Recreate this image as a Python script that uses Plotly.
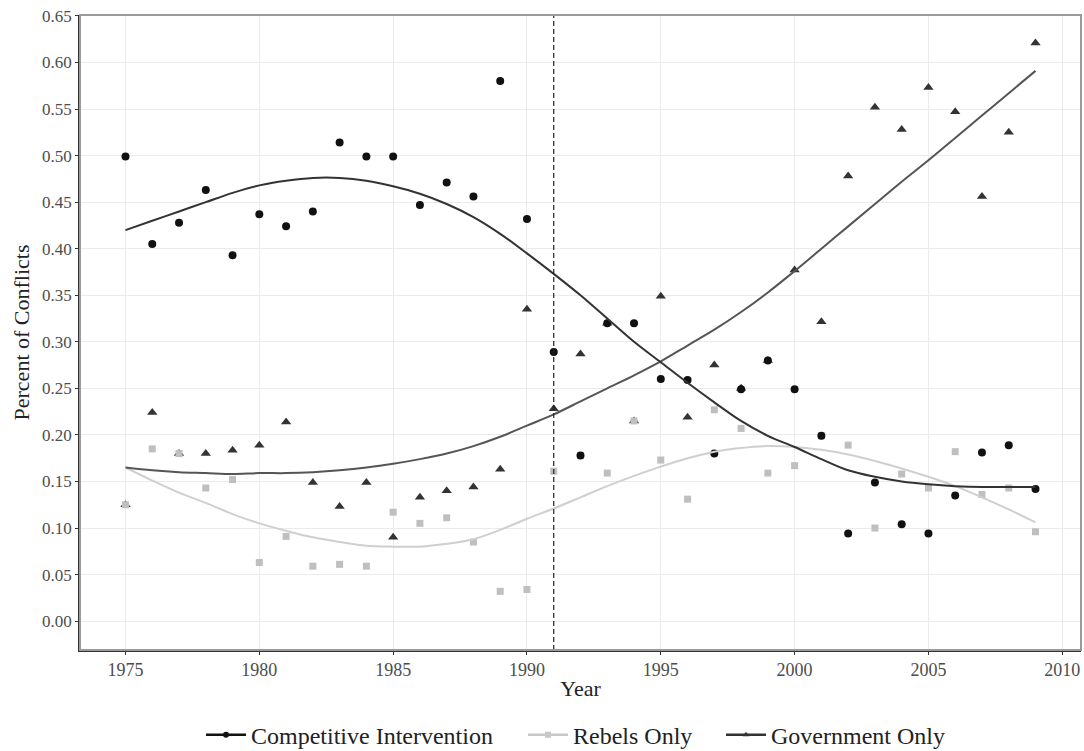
import plotly.graph_objects as go

years = list(range(1975, 2010))

competitive = [0.499, 0.405, 0.428, 0.463, 0.393, 0.437, 0.424, 0.440, 0.514, 0.499,
               0.499, 0.447, 0.471, 0.456, 0.580, 0.432, 0.289, 0.178, 0.320, 0.320,
               0.260, 0.259, 0.180, 0.249, 0.280, 0.249, 0.199, 0.094, 0.149, 0.104,
               0.094, 0.135, 0.181, 0.189, 0.142]

rebels = [0.125, 0.185, 0.180, 0.143, 0.152, 0.063, 0.091, 0.059, 0.061, 0.059,
          0.117, 0.105, 0.111, 0.085, 0.032, 0.034, 0.161, 0.178, 0.159, 0.215,
          0.173, 0.131, 0.227, 0.207, 0.159, 0.167, 0.199, 0.189, 0.100, 0.158,
          0.143, 0.182, 0.136, 0.143, 0.096]

government = [0.125, 0.224, 0.180, 0.180, 0.1835, 0.189, 0.214, 0.149, 0.123, 0.149,
              0.090, 0.133, 0.140, 0.144, 0.163, 0.335, 0.228, 0.287, 0.320, 0.215,
              0.349, 0.219, 0.275, 0.250, 0.280, 0.377, 0.3215, 0.478, 0.552, 0.528,
              0.573, 0.547, 0.456, 0.525, 0.621]

# smoothed trend curves
competitive_fit = [0.420, 0.430, 0.440, 0.450, 0.460, 0.468, 0.473, 0.476, 0.476, 0.473,
                   0.467, 0.459, 0.448, 0.434, 0.416, 0.395, 0.373, 0.350, 0.325, 0.300,
                   0.278, 0.256, 0.235, 0.215, 0.199, 0.187, 0.174, 0.162, 0.155, 0.150,
                   0.147, 0.145, 0.144, 0.144, 0.144]

rebels_fit = [0.165, 0.151, 0.138, 0.127, 0.115, 0.105, 0.097, 0.090, 0.085, 0.081,
              0.080, 0.080, 0.083, 0.088, 0.098, 0.110, 0.121, 0.133, 0.145, 0.156,
              0.166, 0.175, 0.182, 0.186, 0.188, 0.187, 0.184, 0.179, 0.172, 0.164,
              0.155, 0.145, 0.133, 0.120, 0.106]

government_fit = [0.165, 0.162, 0.160, 0.159, 0.158, 0.159, 0.159, 0.160, 0.162, 0.165,
                  0.169, 0.174, 0.180, 0.188, 0.198, 0.210, 0.222, 0.236, 0.250, 0.264,
                  0.279, 0.296, 0.313, 0.332, 0.353, 0.376, 0.400, 0.424, 0.448, 0.472,
                  0.495, 0.519, 0.543, 0.567, 0.591]

series_names = ["Competitive Intervention", "Rebels Only", "Government Only"]
event_year = 1991

FONT = "Liberation Serif"
c_comp = "#111111"
c_reb = "#bfbfbf"
c_gov = "#333333"

fig = go.Figure()

# points
fig.add_trace(go.Scatter(x=years, y=government, mode="markers", showlegend=False,
                         marker=dict(symbol="triangle-up", size=9, color=c_gov)))
fig.add_trace(go.Scatter(x=years, y=rebels, mode="markers", showlegend=False,
                         marker=dict(symbol="square", size=7, color=c_reb)))
fig.add_trace(go.Scatter(x=years, y=competitive, mode="markers", showlegend=False,
                         marker=dict(symbol="circle", size=8, color=c_comp)))

# trend lines
fig.add_trace(go.Scatter(x=years, y=rebels_fit, mode="lines", showlegend=False,
                         line=dict(color="#cfcfcf", width=2, shape="spline")))
fig.add_trace(go.Scatter(x=years, y=government_fit, mode="lines", showlegend=False,
                         line=dict(color="#555555", width=2, shape="spline")))
fig.add_trace(go.Scatter(x=years, y=competitive_fit, mode="lines", showlegend=False,
                         line=dict(color="#333333", width=2, shape="spline")))

# legend entries (one legend per entry to control spacing)
legend_ids = ["legend", "legend2", "legend3"]
for name, col, sym, lg in zip(series_names, [c_comp, "#c8c8c8", c_gov],
                              ["circle", "square", "triangle-up"], legend_ids):
    fig.add_trace(go.Scatter(x=[None], y=[None], mode="lines+markers", name=name,
                             legend=lg,
                             line=dict(color=col, width=2.5),
                             marker=dict(symbol=sym, size=6, color=col)))

fig.add_vline(x=event_year, line=dict(color="#222222", width=1.2, dash="5px,3px"))

# panel border
fig.add_shape(type="rect", xref="paper", yref="paper", x0=0, y0=0, x1=1, y1=1,
              line=dict(color="#9a9a9a", width=2), layer="above")

leg_common = dict(orientation="h", y=-0.134, yanchor="middle", xanchor="left",
                  font=dict(family=FONT, size=24, color="#222222"),
                  itemwidth=40, bgcolor="rgba(0,0,0,0)")

fig.update_layout(
    width=1084, height=751,
    margin=dict(l=80, r=3, t=15, b=101, autoexpand=False),
    paper_bgcolor="white", plot_bgcolor="white",
    font=dict(family=FONT, size=17, color="#4d4d4d"),
    showlegend=True,
    legend=dict(x=(201 - 80) / 1001, **leg_common),
    legend2=dict(x=(523 - 80) / 1001, **leg_common),
    legend3=dict(x=(721 - 80) / 1001, **leg_common),
    xaxis=dict(range=[1973.3, 2010.7], tickmode="array", automargin=False,
               tickvals=[1975, 1980, 1985, 1990, 1995, 2000, 2005, 2010],
               showgrid=True, gridcolor="#ebebeb", gridwidth=1.2,
               showline=True, linecolor="#333333", linewidth=1.5,
               ticks="outside", ticklen=3, tickcolor="#333333",
               zeroline=False,
               tickfont=dict(family=FONT, size=18, color="#4d4d4d"),
               title=dict(text="Year", font=dict(family=FONT, size=22, color="#222222"),
                          standoff=1)),
    yaxis=dict(range=[-0.031, 0.651], tickmode="array", automargin=False,
               tickvals=[i * 0.05 for i in range(14)], tickformat=".2f",
               showgrid=True, gridcolor="#ebebeb", gridwidth=1.2,
               showline=True, linecolor="#333333", linewidth=1.5,
               ticks="outside", ticklen=3, tickcolor="#333333",
               zeroline=False,
               tickfont=dict(family=FONT, size=17, color="#4d4d4d"),
               title=dict(text="Percent of Conflicts",
                          font=dict(family=FONT, size=22, color="#222222"),
                          standoff=6)),
)

fig.write_html("out.html",
               config={"displayModeBar": False},
               post_script="document.body.style.margin='0px';")
